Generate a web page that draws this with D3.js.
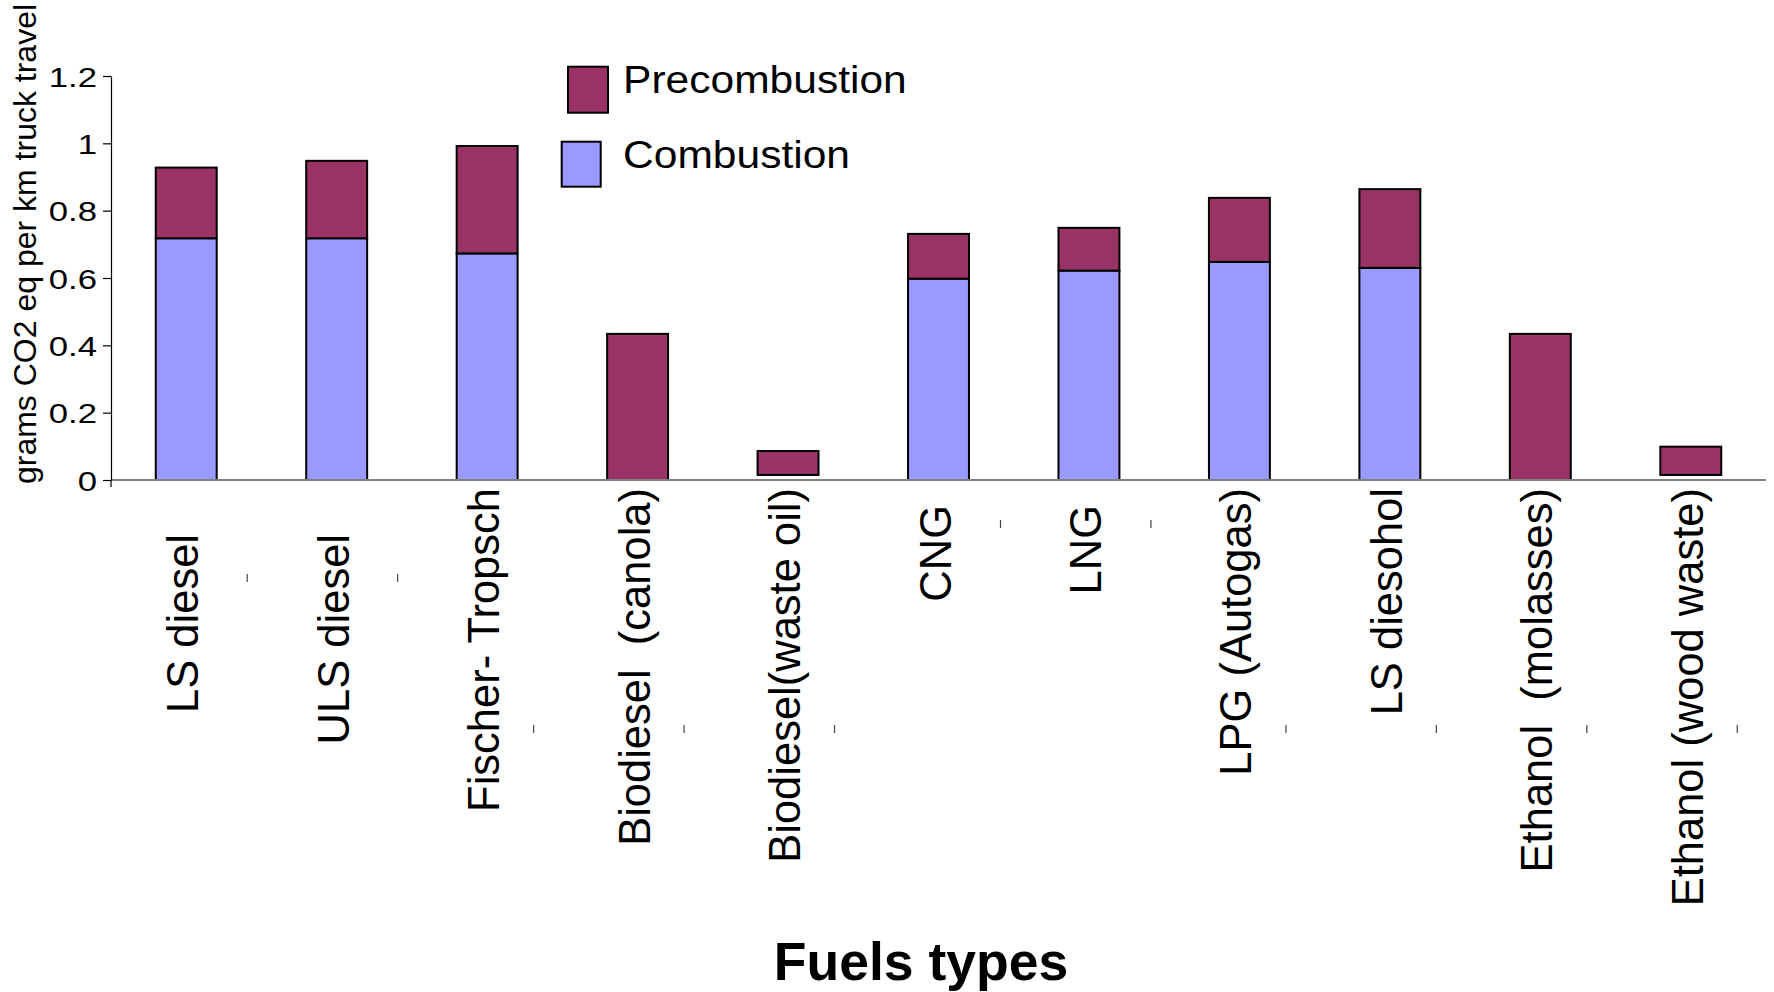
<!DOCTYPE html>
<html>
<head>
<meta charset="utf-8">
<script src="https://cdn.jsdelivr.net/npm/d3@7"></script>
<style>
  html, body { margin: 0; padding: 0; background: #ffffff; }
  svg { display: block; font-family: "Liberation Sans", Arial, sans-serif; }
</style>
</head>
<body>
<svg id="chart" width="1774" height="992"></svg>
<script>
// Life-cycle emissions per km of truck travel, by fuel
const fuels = [
  "LS diesel", "ULS diesel", "Fischer- Tropsch", "Biodiesel  (canola)",
  "Biodiesel(waste oil)", "CNG", "LNG", "LPG (Autogas)", "LS diesohol",
  "Ethanol  (molasses)", "Ethanol (wood waste)"
];
const combustion    = [0.718, 0.718, 0.673, 0.000, 0.015, 0.598, 0.622, 0.648, 0.630, 0.000, 0.015];
const precombustion = [0.210, 0.230, 0.319, 0.434, 0.071, 0.133, 0.127, 0.190, 0.234, 0.434, 0.084];
// combustion CO2 from these fuels is biogenic and is not painted in the stack
const biogenic      = [false, false, false, true, true, false, false, false, false, true, true];
const yTicks = [0, 0.2, 0.4, 0.6, 0.8, 1, 1.2];
const seriesKeys = ["Combustion", "Precombustion"];
const legendItems = ["Precombustion", "Combustion"];
const yTitle = "grams CO2 eq per km truck travel";
const xTitle = "Fuels types";

const colours = { Precombustion: "#993366", Combustion: "#9999ff" };

const svg = d3.select("#chart");

const x = d3.scaleBand()
  .domain(fuels)
  .range([111, 1766])
  .paddingInner(0.595)
  .paddingOuter(0.2975);

const y = d3.scaleLinear().domain([0, 1.2]).range([480, 76]);

// stacked columns
const rows = fuels.map((f, i) => ({
  fuel: f,
  Combustion: combustion[i],
  Precombustion: precombustion[i],
  biogenic: biogenic[i]
}));
const stacked = d3.stack().keys(seriesKeys)(rows);

svg.append("g")
  .selectAll("g")
  .data(stacked)
  .join("g")
  .selectAll("rect")
  .data(s => s.map(p => ({ key: s.key, lo: p[0], hi: p[1], row: p.data })))
  .join("rect")
  .filter(d => d.hi - d.lo > 0)
  .attr("x", d => x(d.row.fuel))
  .attr("width", x.bandwidth())
  .attr("y", d => y(d.hi))
  .attr("height", d => y(d.lo) - y(d.hi))
  .attr("fill", d => (d.key === "Combustion" && d.row.biogenic) ? "none" : colours[d.key])
  .attr("stroke", d => (d.key === "Combustion" && d.row.biogenic) ? "none" : "#000")
  .attr("stroke-width", 2);

// category axis line
svg.append("line")
  .attr("x1", x.range()[0]).attr("x2", x.range()[1])
  .attr("y1", y(0)).attr("y2", y(0))
  .attr("stroke", "#808080").attr("stroke-width", 2);

// value axis
const yAxis = svg.append("g")
  .attr("transform", `translate(${x.range()[0]},0)`)
  .call(d3.axisLeft(y).tickValues(yTicks).tickSize(8).tickSizeOuter(0).tickFormat(d3.format("~g")));
yAxis.select(".domain").attr("stroke", "#000").attr("stroke-width", 1.2);
yAxis.selectAll(".tick line").attr("stroke", "#000").attr("stroke-width", 1.2);
yAxis.selectAll(".tick text")
  .attr("x", null)
  .attr("dy", "0.36em")
  .attr("transform", "translate(-14,0) scale(1.24,1)")
  .attr("text-anchor", "end")
  .attr("fill", "#000")
  .style("font-size", "28px")
  .style("font-family", "'Liberation Sans', Arial, sans-serif");
yAxis.append("line")
  .attr("x1", 0).attr("x2", 0)
  .attr("y1", y(0)).attr("y2", y(0) + 7)
  .attr("stroke", "#000").attr("stroke-width", 1.2);

// rotated category labels
const shortness = f => f.length <= 3 ? 2 : (f.length <= 10 ? 1 : 0);
const labelEnd = [488, 534, 505];
const markTop = [725, 574, 520];
const markShift = [46.5, 61, 62];

const labels = svg.append("g").selectAll("g")
  .data(fuels)
  .join("g");

labels.append("text")
  .attr("transform", f => `translate(${x(f) + x.bandwidth() / 2 + 12},${labelEnd[shortness(f)]}) rotate(-90)`)
  .attr("text-anchor", "end")
  .style("white-space", "pre")
  .style("font-size", "43.5px")
  .attr("fill", "#000")
  .text(f => f);

labels.append("line")
  .attr("x1", f => x(f) + x.bandwidth() / 2 + markShift[shortness(f)])
  .attr("x2", f => x(f) + x.bandwidth() / 2 + markShift[shortness(f)])
  .attr("y1", f => markTop[shortness(f)])
  .attr("y2", f => markTop[shortness(f)] + 8)
  .attr("stroke", "#444").attr("stroke-width", 1.2);

// axis titles
svg.append("text")
  .attr("transform", "translate(36,244) rotate(-90)")
  .attr("text-anchor", "middle")
  .style("font-size", "32px")
  .attr("fill", "#000")
  .text(yTitle);

svg.append("text")
  .attr("x", 921).attr("y", 980)
  .attr("text-anchor", "middle")
  .style("font-size", "53.5px")
  .style("font-weight", "bold")
  .attr("fill", "#000")
  .text(xTitle);

// legend
const legendBoxes = [
  { x: 568, y: 66.7, w: 40, h: 46, tx: 623, ty: 93.3 },
  { x: 561.7, y: 141.7, w: 39, h: 45, tx: 623, ty: 168 }
];
const legend = svg.append("g").selectAll("g")
  .data(legendItems)
  .join("g");
legend.append("rect")
  .attr("x", (d, i) => legendBoxes[i].x)
  .attr("y", (d, i) => legendBoxes[i].y)
  .attr("width", (d, i) => legendBoxes[i].w)
  .attr("height", (d, i) => legendBoxes[i].h)
  .attr("fill", d => colours[d])
  .attr("stroke", "#000").attr("stroke-width", 2);
legend.append("text")
  .attr("transform", (d, i) => `translate(${legendBoxes[i].tx},${legendBoxes[i].ty}) scale(1.12,1)`)
  .style("font-size", "38px")
  .attr("fill", "#000")
  .text(d => d);
</script>
</body>
</html>
